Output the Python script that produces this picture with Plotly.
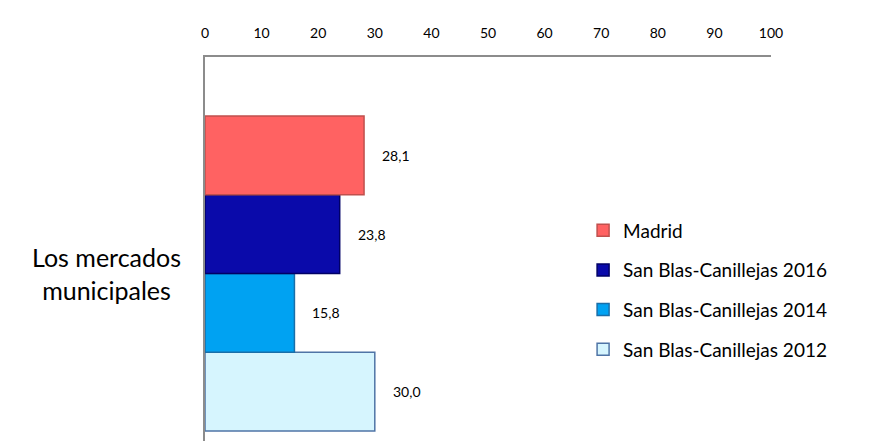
import plotly.graph_objects as go

# Survey results: "Los mercados municipales" (%)
category = "Los mercados<br>municipales"
series_names = ["San Blas-Canillejas 2012", "San Blas-Canillejas 2014",
                "San Blas-Canillejas 2016", "Madrid"]
values = [30.0, 15.8, 23.8, 28.1]
fill_colors = ["#D6F5FE", "#00A2F2", "#0A0AAA", "#FF6262"]
line_colors = ["#4F74A6", "#1A6EA8", "#000066", "#C0504D"]
x_ticks = list(range(0, 101, 10))

FONT = "Lato"

fig = go.Figure()
n = len(values)
for i, (name, v, fc, lc) in enumerate(zip(series_names, values, fill_colors, line_colors)):
    fig.add_trace(go.Bar(
        x=[v], y=[i], orientation="h", name=name, width=1.0,
        marker=dict(color=fc, line=dict(color=lc, width=1.5)),
        legendgroup=name, legendrank=n - i, hoverinfo="skip",
    ))
    fig.add_annotation(
        x=v, y=i, text=f"{v:.1f}".replace(".", ","), showarrow=False,
        xanchor="left", xshift=16, font=dict(family=FONT, size=14, color="#000"),
    )

# category label to the left of the bar group
fig.add_annotation(
    x=0, xref="paper", y=(n - 1) / 2, text=category, showarrow=False,
    xanchor="right", xshift=-22, align="center",
    font=dict(family=FONT, size=25, color="#000"),
)

fig.update_layout(
    width=884, height=441,
    margin=dict(l=205, r=113, t=57, b=0),
    paper_bgcolor="white", plot_bgcolor="white",
    barmode="overlay",
    showlegend=True,
    legend=dict(
        x=0.668, xanchor="left", y=0.598, yanchor="top",
        traceorder="grouped", tracegroupgap=12,
        font=dict(family=FONT, size=19, color="#000"),
        itemwidth=30, bgcolor="rgba(0,0,0,0)",
    ),
    xaxis=dict(
        side="top", range=[0, 100], tickvals=x_ticks,
        showgrid=False, zeroline=False,
        showline=True, linecolor="#8C8C8C", linewidth=2,
        ticks="outside", ticklen=11, tickcolor="rgba(0,0,0,0)",
        tickfont=dict(family=FONT, size=14, color="#000"),
    ),
    yaxis=dict(
        range=[-0.627, 4.249], showticklabels=False,
        showgrid=False, zeroline=False,
        showline=True, linecolor="#8C8C8C", linewidth=2,
    ),
)

fig.write_html("out.html")
